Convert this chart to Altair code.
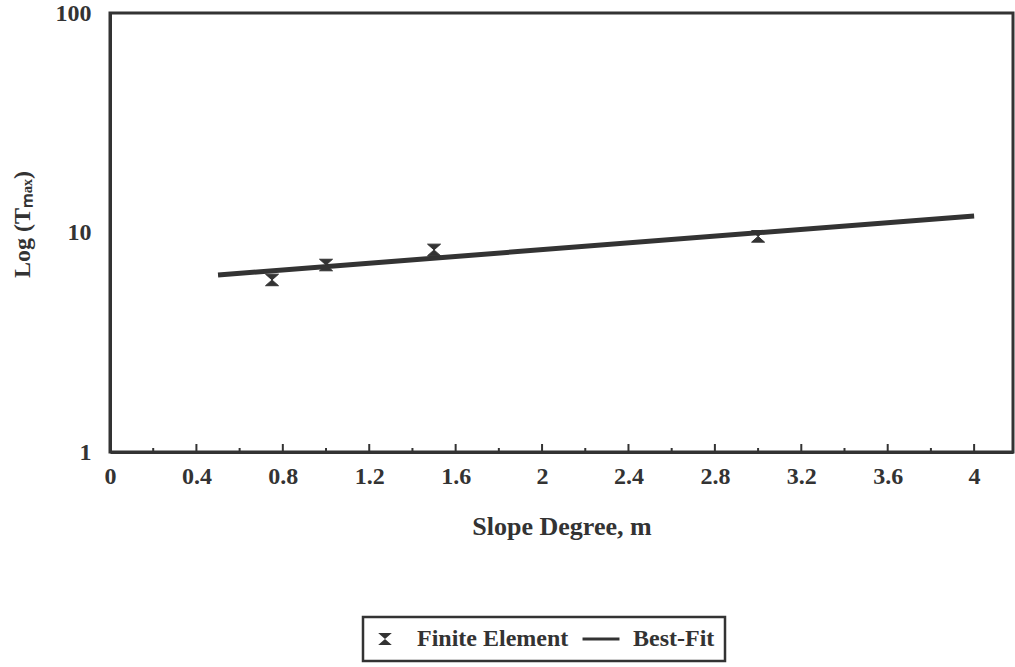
import altair as alt
import pandas as pd

# Finite element results
fe_m = [0.75, 1.0, 1.5, 3.0]
fe_t = [6.08, 7.11, 8.33, 9.6]

# Best-fit line end points
fit_m = [0.5, 4.0]
fit_t = [6.4, 11.9]

series_names = ["Finite Element", "Best-Fit"]

x_major = [0.4, 0.8, 1.2, 1.6, 2.0, 2.4, 2.8, 3.2, 3.6, 4.0]
x_minor = [0.2, 0.6, 1.0, 1.4, 1.8, 2.2, 2.6, 3.0, 3.4, 3.8]
x_labels = [0, 0.4, 0.8, 1.2, 1.6, 2, 2.4, 2.8, 3.2, 3.6, 4]
y_labels = [1, 10, 100]

INK = "#333333"
FONT = "Liberation Serif"
W, H = 903, 439

# symbol shapes: hourglass marker and a short thick dash for the fit line
hourglass = "M-0.62,-0.55L0.62,-0.55L-0.62,0.55L0.62,0.55Z"
dash = "M-1.68,-0.13L1.68,-0.13L1.68,0.13L-1.68,0.13Z"

fe_df = pd.DataFrame({"m": fe_m, "t": fe_t, "series": series_names[0]})
fit_df = pd.DataFrame({"m": fit_m, "t": fit_t, "series": series_names[1]})
major_df = pd.DataFrame({"m": x_major})
minor_df = pd.DataFrame({"m": x_minor})

xscale = alt.Scale(domain=[0, 4.18], nice=False, zero=False)
yscale = alt.Scale(type="log", domain=[1, 100], nice=False)

xaxis = alt.Axis(
    values=x_labels, labelExpr="datum.value + ''", ticks=False, grid=False,
    title="Slope Degree, m", labelPadding=12, titlePadding=25,
    labelFont=FONT, labelFontSize=24, labelFontWeight="bold", labelColor=INK,
    titleFont=FONT, titleFontSize=26, titleFontWeight="bold", titleColor=INK,
    domainColor=INK, domainWidth=3, labelFlush=False,
)
yaxis = alt.Axis(
    values=y_labels, labelExpr="datum.value + ''", ticks=False, grid=False,
    title="Log (Tₘₐₓ)", labelPadding=19,
    labelFont=FONT, labelFontSize=24, labelFontWeight="bold", labelColor=INK,
    titleFont=FONT, titleFontSize=24, titleFontWeight="bold", titleColor=INK,
    titleX=-81, titleY=211, titleAlign="center", titleBaseline="alphabetic",
    domainColor=INK, domainWidth=3,
)

line = alt.Chart(fit_df).mark_line(color=INK, strokeWidth=5).encode(
    x=alt.X("m:Q", scale=xscale, axis=xaxis),
    y=alt.Y("t:Q", scale=yscale, axis=yaxis),
)

points = alt.Chart(fe_df).mark_point(
    filled=True, color=INK, opacity=1, size=441, stroke=INK, strokeWidth=1
).encode(
    x=alt.X("m:Q", scale=xscale),
    y=alt.Y("t:Q", scale=yscale),
    shape=alt.Shape(
        "series:N",
        scale=alt.Scale(domain=series_names, range=[hourglass, dash]),
        legend=alt.Legend(
            title=None, orient="none", legendX=253, legendY=604,
            direction="horizontal", columns=2,
            columnPadding=13, labelOffset=20, padding=10, symbolSize=484,
            symbolFillColor=INK, symbolStrokeWidth=0,
            labelExpr="datum.label == 'Best-Fit' ? datum.label + '\u00a0\u00a0\u00a0\u00a0\u00a0\u00a0\u00a0\u00a0' : datum.label",
            labelFont=FONT, labelFontSize=24, labelFontWeight="bold",
            labelColor=INK, strokeColor=INK, labelLimit=400,
        ),
    ),
)

major_ticks = alt.Chart(major_df).mark_rule(color=INK, strokeWidth=2).encode(
    x=alt.X("m:Q", scale=xscale), y=alt.value(H), y2=alt.value(H - 8)
)
minor_ticks = alt.Chart(minor_df).mark_rule(color=INK, strokeWidth=2).encode(
    x=alt.X("m:Q", scale=xscale), y=alt.value(H), y2=alt.value(H - 4)
)

chart = (
    alt.layer(major_ticks, minor_ticks, line, points)
    .properties(
        width=W, height=H,
        autosize=alt.AutoSizeParams(type="none"),
        padding={"left": 110, "top": 13, "right": 2, "bottom": 215},
        background="white",
    )
    .configure_view(stroke=INK, strokeWidth=3)
    .configure_legend(strokeWidth=2.5)
)

chart.save("out.html", embed_options={"renderer": "svg", "actions": False})
